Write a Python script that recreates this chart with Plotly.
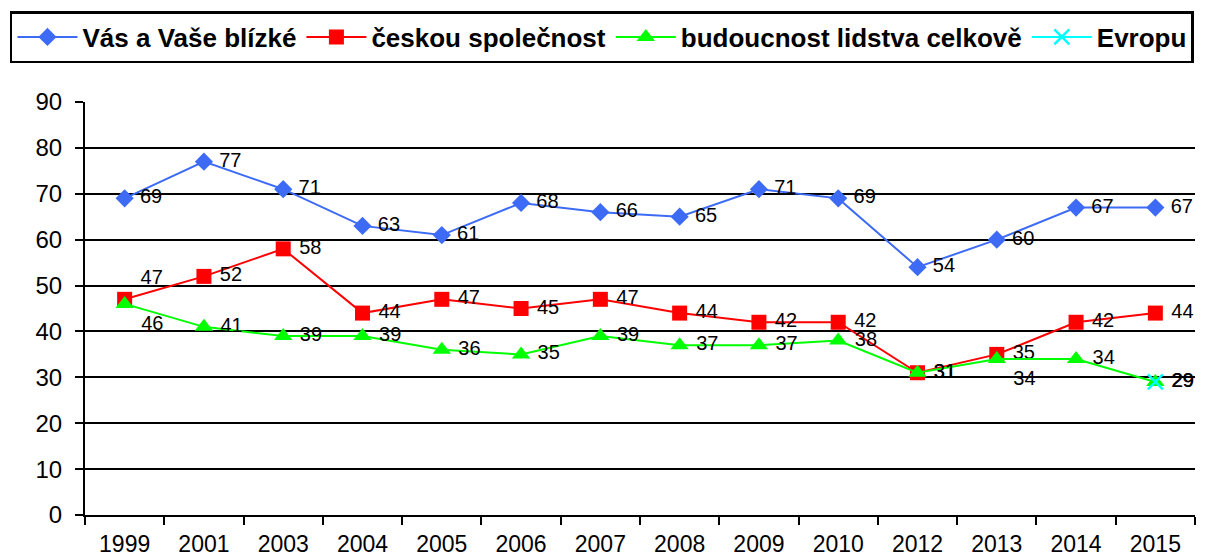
import plotly.graph_objects as go

years = ['1999', '2001', '2003', '2004', '2005', '2006', '2007', '2008', '2009',
         '2010', '2012', '2013', '2014', '2015']
vas = [69, 77, 71, 63, 61, 68, 66, 65, 71, 69, 54, 60, 67, 67]
ceskou = [47, 52, 58, 44, 47, 45, 47, 44, 42, 42, 31, 35, 42, 44]
budoucnost = [46, 41, 39, 39, 36, 35, 39, 37, 37, 38, 31, 34, 34, 29]
evropu = [None] * 13 + [29]
y_ticks = [0, 10, 20, 30, 40, 50, 60, 70, 80, 90]

names = ['Vás a Vaše blízké', 'českou společnost', 'budoucnost lidstva celkově', 'Evropu']
colors = ['#3D6BF5', '#FF0000', '#00FF00', '#00FFFF']
symbols = ['diamond', 'square', 'triangle-up', 'x-thin-open']
sizes = [14, 15, 16, 15]
series = [vas, ceskou, budoucnost, evropu]

pos_red = ['middle right'] * len(years)
pos_red[0] = 'top right'
pos_green = ['middle right'] * len(years)
pos_green[0] = 'bottom right'
pos_green[11] = 'bottom right'
positions = [['middle right'] * len(years), pos_red, pos_green, ['middle right'] * len(years)]

fig = go.Figure()
for name, col, sym, sz, vals, pos in zip(names, colors, symbols, sizes, series, positions):
    fig.add_trace(go.Scatter(
        x=years, y=vals, name=name, mode='lines+markers+text',
        line=dict(color=col, width=2),
        marker=dict(symbol=sym, size=sz, color=col,
                    line=dict(color=col, width=2.5 if sym.startswith('x') else 0)),
        text=[(' ' + str(v)) if v is not None else '' for v in vals],
        textposition=pos,
        textfont=dict(family='Liberation Sans, Arial', size=20, color='black'),
        cliponaxis=False,
    ))

# page body has an 8px default margin, so the figure is sized/margined to compensate
fig.update_layout(
    width=1203, height=550,
    margin=dict(l=77, r=16, t=94, b=43, autoexpand=False),
    paper_bgcolor='white', plot_bgcolor='white',
    font=dict(family='Liberation Sans, Arial', color='black'),
    showlegend=True,
    legend=dict(
        orientation='h', x=-0.0676, y=1.2203, xanchor='left', yanchor='top',
        font=dict(family='Liberation Sans, Arial', size=26, color='black', weight='bold'),
        bordercolor='black', borderwidth=2.5, bgcolor='white',
        itemwidth=60, tracegroupgap=0,
    ),
    xaxis=dict(
        type='category', range=[-0.5, 13.5], automargin=False,
        showline=True, linecolor='black', linewidth=2,
        ticks='outside', ticklen=8, tickwidth=2, tickcolor='black',
        tickson='boundaries', showgrid=False,
        tickfont=dict(size=23, color='black'),
        ticklabelstandoff=7,
    ),
    yaxis=dict(
        range=[0, 90], tickvals=y_ticks, automargin=False,
        showline=True, linecolor='black', linewidth=2,
        ticks='outside', ticklen=8, tickwidth=2, tickcolor='black',
        showgrid=True, gridcolor='black', gridwidth=2,
        zeroline=False,
        tickfont=dict(size=24, color='black'),
        ticklabelstandoff=8,
    ),
)

fig.write_html('out.html')
